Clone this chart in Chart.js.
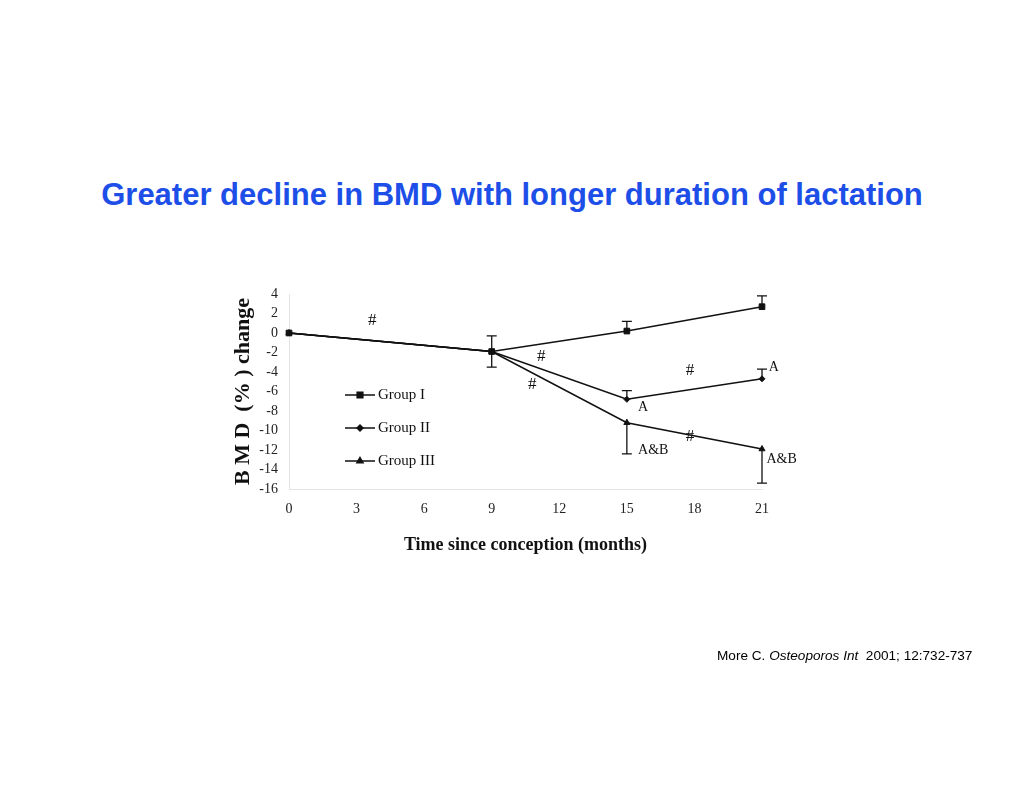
<!DOCTYPE html>
<html>
<head>
<meta charset="utf-8">
<script src="https://cdn.jsdelivr.net/npm/chart.js@4"></script>
<style>
  body { margin: 0; background: #fff; }
  #wrap { position: relative; width: 1024px; height: 791px; }
  #title { position: absolute; left: 0; width: 1024px; top: 177px; text-align: center;
    font: bold 31px "Liberation Sans", Arial, sans-serif; color: #1d4fe8; }
  #cite { position: absolute; left: 717px; top: 648px;
    font: 13.6px "Liberation Sans", Arial, sans-serif; color: #000; white-space: pre; }
  canvas { position: absolute; left: 0; top: 0; }
</style>
</head>
<body>
<div id="wrap">
  <div id="title">Greater decline in BMD with longer duration of lactation</div>
  <canvas id="bmdChart" width="1024" height="791"></canvas>
  <div id="cite">More C. <i>Osteoporos Int</i>  2001; 12:732-737</div>
</div>
<script>
const months = [0, 9, 15, 21];
const xTicks = [0, 3, 6, 9, 12, 15, 18, 21];

const groupOne = [0, -1.9, 0.2, 2.7];
const groupTwo = [0, -1.9, -6.8, -4.7];
const groupThree = [0, -1.9, -9.2, -11.9];

// error bars: amount above / below each point
const groupOneUp = [0, 1.6, 1.0, 1.1];
const groupOneDown = [0, 1.6, 0, 0];
const groupTwoUp = [0, 0, 0.9, 1.0];
const groupTwoDown = [0, 0, 0, 0];
const groupThreeUp = [0, 0, 0, 0];
const groupThreeDown = [0, 0, 3.2, 3.5];

// significance marks
const noteText = ['#', '#', '#', '#', '#', 'A', 'A', 'A&B', 'A&B'];
const noteX = [3.7, 11.2, 10.8, 17.8, 17.8, 21.3, 15.5, 15.5, 21.2];
const noteY = [1.3, -2.4, -5.3, -3.8, -10.6, -3.5, -7.6, -12.0, -13.0];
const noteAlign = ['center', 'center', 'center', 'center', 'center', 'left', 'left', 'left', 'left'];

const ctx = document.getElementById('bmdChart');

function pts(ys) {
  return months.map((m, i) => ({x: m, y: ys[i]}));
}

const errorBars = {
  id: 'errorBars',
  afterDatasetsDraw(chart) {
    const c = chart.ctx;
    const xs = chart.scales.x, ys = chart.scales.y;
    c.save();
    c.strokeStyle = '#111';
    c.lineWidth = 1.3;
    chart.data.datasets.forEach(ds => {
      ds.data.forEach((p, i) => {
        const up = ds.errUp[i], down = ds.errDown[i];
        if (!up && !down) return;
        const px = xs.getPixelForValue(p.x);
        const top = ys.getPixelForValue(p.y + up);
        const bot = ys.getPixelForValue(p.y - down);
        c.beginPath();
        c.moveTo(px, top); c.lineTo(px, bot);
        if (up) { c.moveTo(px - 5, top); c.lineTo(px + 5, top); }
        if (down) { c.moveTo(px - 5, bot); c.lineTo(px + 5, bot); }
        c.stroke();
      });
    });
    c.restore();
  }
};

const notes = {
  id: 'notes',
  afterDatasetsDraw(chart) {
    const c = chart.ctx;
    const xs = chart.scales.x, ys = chart.scales.y;
    c.save();
    c.fillStyle = '#111';
    c.textBaseline = 'middle';
    noteText.forEach((t, i) => {
      c.font = t === '#' ? '17px "Liberation Serif", serif' : '14px "Liberation Serif", serif';
      c.textAlign = noteAlign[i];
      c.fillText(t, xs.getPixelForValue(noteX[i]), ys.getPixelForValue(noteY[i]));
    });

    // legend inside the plot
    const area = chart.chartArea;
    const lx = area.left + 56, ly = area.top + 101, gap = 33;
    chart.data.datasets.forEach((ds, i) => {
      const y = ly + i * gap;
      c.strokeStyle = '#111';
      c.lineWidth = 1.5;
      c.beginPath();
      c.moveTo(lx, y); c.lineTo(lx + 30, y);
      c.stroke();
      Chart.helpers.drawPoint(c, {pointStyle: ds.pointStyle, radius: ds.pointRadius, borderWidth: 1}, lx + 15, y);
      c.font = '15px "Liberation Serif", serif';
      c.textAlign = 'left';
      c.fillText(ds.label, lx + 33, y);
    });
    c.restore();
  }
};

new Chart(ctx, {
  type: 'line',
  data: {
    datasets: [{
      label: 'Group I',
      data: pts(groupOne),
      errUp: groupOneUp,
      errDown: groupOneDown,
      pointStyle: 'rect',
      pointRadius: 4
    },
    {
      label: 'Group II',
      data: pts(groupTwo),
      errUp: groupTwoUp,
      errDown: groupTwoDown,
      pointStyle: 'rectRot',
      pointRadius: 3
    },
    {
      label: 'Group III',
      data: pts(groupThree),
      errUp: groupThreeUp,
      errDown: groupThreeDown,
      pointStyle: 'triangle',
      pointRadius: 3.5
    }]
  },
  options: {
    responsive: false,
    animation: false,
    clip: false,
    elements: {
      line: { borderColor: '#111', borderWidth: 1.6, tension: 0, fill: false },
      point: { backgroundColor: '#111', borderColor: '#111', borderWidth: 1, hoverRadius: 4 }
    },
    layout: { padding: { left: 218, right: 262, top: 294, bottom: 200 } },
    plugins: {
      legend: { display: false },
      tooltip: { enabled: false }
    },
    scales: {
      x: {
        type: 'linear',
        min: 0,
        max: 21,
        afterFit(scale) { scale.height = 102; },
        afterBuildTicks(scale) { scale.ticks = xTicks.map(v => ({value: v})); },
        grid: { display: false, drawTicks: false },
        border: { color: '#e4e4e4', width: 1 },
        ticks: { color: '#222', padding: 12, font: { family: '"Liberation Serif", serif', size: 14 } },
        title: {
          display: true,
          text: 'Time since conception (months)',
          color: '#111',
          padding: { top: 0, bottom: 35 },
          font: { family: '"Liberation Serif", serif', size: 18, weight: 'bold' }
        }
      },
      y: {
        min: -16,
        max: 4,
        afterFit(scale) { scale.width = 71; },
        grid: { display: false, drawTicks: false },
        border: { color: '#e4e4e4', width: 1 },
        ticks: { stepSize: 2, autoSkip: false, color: '#222', padding: 11, font: { family: '"Liberation Serif", serif', size: 14 } },
        title: {
          display: true,
          text: 'B M D  (% ) change',
          color: '#111',
          padding: { top: 12, bottom: 0 },
          font: { family: '"Liberation Serif", serif', size: 22, weight: 'bold' }
        }
      }
    }
  },
  plugins: [errorBars, notes]
});
</script>
</body>
</html>
